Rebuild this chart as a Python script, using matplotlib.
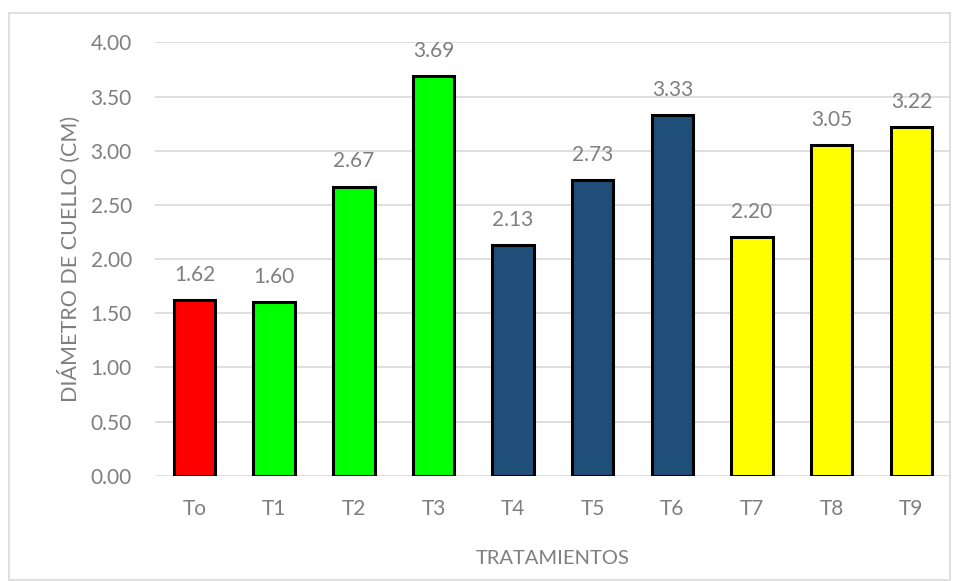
#!/usr/bin/env python3

import matplotlib.pyplot as plt
from matplotlib.patches import Rectangle

tratamientos = ["To", "T1", "T2", "T3", "T4", "T5", "T6", "T7", "T8", "T9"]
diametro = [1.62, 1.60, 2.67, 3.69, 2.13, 2.73, 3.33, 2.20, 3.05, 3.22]
colores = ["#FF0000", "#00FF00", "#00FF00", "#00FF00",
           "#1F4E79", "#1F4E79", "#1F4E79",
           "#FFFF00", "#FFFF00", "#FFFF00"]
yticks = [0.0, 0.5, 1.0, 1.5, 2.0, 2.5, 3.0, 3.5, 4.0]

gris = "#7f7f7f"
plt.rcParams['font.family'] = ['Lato', 'DejaVu Sans']

fig = plt.figure(figsize=(9.55, 5.81), dpi=100)
# marco del grafico
fig.patches.append(Rectangle((9/955, 0.002), 0.995 - 9/955, 1 - 13/581 - 0.002,
                             transform=fig.transFigure, fill=False,
                             edgecolor="#d9d9d9", linewidth=1.2))
ax = fig.add_axes([0.162, 0.181, 0.834, 0.746])

x = range(len(tratamientos))
ax.bar(x, diametro, width=0.52, color=colores, edgecolor="black",
       linewidth=2.2, zorder=3)
for i, v in zip(x, diametro):
    ax.annotate(f"{v:.2f}", (i, v), xytext=(0, 11), textcoords="offset points",
                ha="center", va="bottom", fontsize=15, color=gris)

ax.set_ylim(0, 4)
ax.set_xlim(-0.5, len(tratamientos) - 0.5)
ax.set_yticks(yticks)
ax.set_yticklabels([f"{t:.2f}" for t in yticks])
ax.set_xticks(list(x))
ax.set_xticklabels(tratamientos)
ax.yaxis.grid(True, color="#d9d9d9", linewidth=1.2, zorder=0)
ax.set_axisbelow(True)
for s in ax.spines.values():
    s.set_visible(False)
ax.tick_params(axis="both", length=0, labelsize=15, labelcolor=gris)
ax.tick_params(axis="y", pad=16.5)
ax.tick_params(axis="x", pad=17)
ax.set_ylabel("DIÁMETRO DE CUELLO (CM)", fontsize=15.5, color=gris, labelpad=7)
ax.set_xlabel("TRATAMIENTOS", fontsize=14.5, color=gris, labelpad=22)

fig.savefig("out.png", dpi=100)
